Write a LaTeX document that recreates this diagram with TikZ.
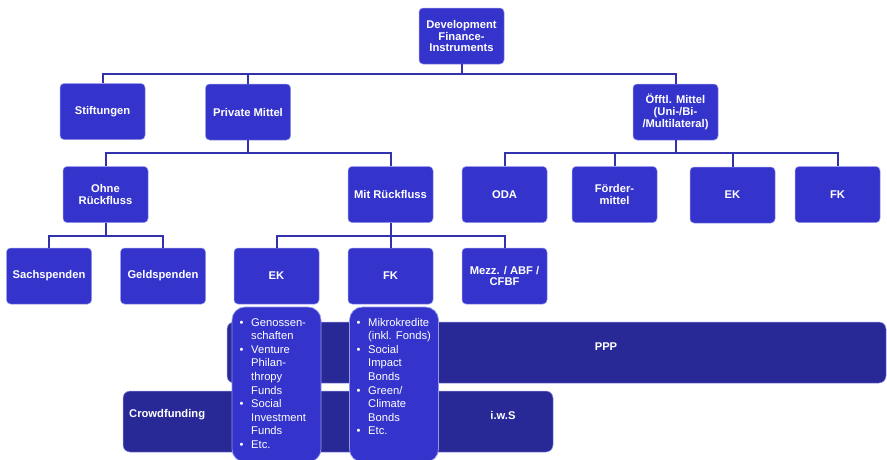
\documentclass[tikz,border=0pt]{standalone}
\usepackage{fontspec}
\setmainfont{Liberation Sans}
\usepackage{array}
\definecolor{boxblue}{RGB}{52,52,204}
\definecolor{barblue}{RGB}{40,40,150}
\definecolor{connblue}{RGB}{50,50,175}
\definecolor{edgeblue}{RGB}{150,150,235}
\begin{document}
\begin{tikzpicture}[x=1pt,y=-1pt,
  box/.style={rectangle, rounded corners=4pt, fill=boxblue, draw=edgeblue, line width=0.5pt,
    minimum width=85pt, minimum height=56pt, text=white, align=center, inner sep=1pt,
    font=\bfseries\fontsize{11.2}{11.7}\selectfont},
  bar/.style={rectangle, rounded corners=7pt, fill=barblue, draw=edgeblue, line width=0.5pt, inner sep=0pt},
  listbox/.style={rectangle, rounded corners=13pt, fill=boxblue, draw=edgeblue, line width=0.7pt,
    minimum width=89pt, minimum height=155pt, inner sep=0pt},
  bartext/.style={text=white, inner sep=0pt, font=\bfseries\fontsize{11.2}{11.7}\selectfont},
  listtext/.style={text=white, inner sep=0pt, anchor=base west, align=left,
    font=\fontsize{11.2}{13.6}\selectfont},
  conn/.style={draw=connblue, line width=2pt}
]
\useasboundingbox[fill=white] (0,0) rectangle (887,459);

% bars
\node[bar, minimum width=659pt, minimum height=61pt] (ppp) at (556.5,352.5) {};
\node[bartext] (ppptxt) at (606,347) {PPP};
\node[bar, minimum width=430pt, minimum height=61pt] (crowd) at (338,421.5) {};
\node[bartext, anchor=west] (crowdtxt) at (129,415) {Crowdfunding};
\node[bartext] (iwstxt) at (503,415) {i.w.S};

% tree boxes
\node[box] (dfi) at (461.5,36) {Development\\Finance-\\Instruments};
\node[box] (stift) at (102.5,111.5) {Stiftungen};
\node[box] (pm) at (248,112) {Private Mittel};
\node[box] (oeff) at (675.5,112) {Öfftl. Mittel\\(Uni-/Bi-\\/Multilateral)};
\node[box] (ohne) at (105.5,194.5) {Ohne\\Rückfluss};
\node[box] (mit) at (390.5,194.5) {Mit Rückfluss};
\node[box] (oda) at (504.5,194.5) {ODA};
\node[box] (foerder) at (614.5,194.5) {Förder-\\mittel};
\node[box] (ekr) at (732.5,195) {EK};
\node[box] (fkr) at (837.5,194.5) {FK};
\node[box] (sach) at (49,276) {Sachspenden};
\node[box] (geld) at (163,276) {Geldspenden};
\node[box] (ek) at (276.5,276) {EK};
\node[box] (fk) at (390.5,276) {FK};
\node[box] (mezz) at (504.5,276) {Mezz. / ABF /\\CFBF};

% connectors
\draw[conn] (dfi.south) -- ++(0,10) -| (stift.north);
\draw[conn] (dfi.south) -- ++(0,10) -| (pm.north);
\draw[conn] (dfi.south) -- ++(0,10) -| (oeff.north);
\draw[conn] (pm.south) -- ++(0,13) -| (ohne.north);
\draw[conn] (pm.south) -- ++(0,13) -| (mit.north);
\draw[conn] (oeff.south) -- ++(0,13) -| (oda.north);
\draw[conn] (oeff.south) -- ++(0,13) -| (foerder.north);
\draw[conn] (oeff.south) -- ++(0,13) -| (ekr.north);
\draw[conn] (oeff.south) -- ++(0,13) -| (fkr.north);
\draw[conn] (ohne.south) -- ++(0,13) -| (sach.north);
\draw[conn] (ohne.south) -- ++(0,13) -| (geld.north);
\draw[conn] (mit.south) -- ++(0,13) -| (ek.north);
\draw[conn] (mit.south) -- ++(0,13) -| (fk.north);
\draw[conn] (mit.south) -- ++(0,13) -| (mezz.north);

% list boxes
\node[listbox] (eklist) at (276.5,384.5) {};
\node[listbox] (fklist) at (394,384.5) {};
\node[listtext] (ektxt) at (239.5,326) {%
\begin{tabular}[t]{@{}p{11.5pt}@{}l@{}}
•& Genossen-\\
 & schaften\\
•& Venture\\
 & Philan-\\
 & thropy\\
 & Funds\\
•& Social\\
 & Investment\\
 & Funds\\
•& Etc.
\end{tabular}};
\node[listtext] (fktxt) at (356.5,326) {%
\begin{tabular}[t]{@{}p{11.5pt}@{}l@{}}
•& Mikrokredite\\
 & (inkl. Fonds)\\
•& Social\\
 & Impact\\
 & Bonds\\
•& Green/\\
 & Climate\\
 & Bonds\\
•& Etc.
\end{tabular}};
\end{tikzpicture}
\end{document}
